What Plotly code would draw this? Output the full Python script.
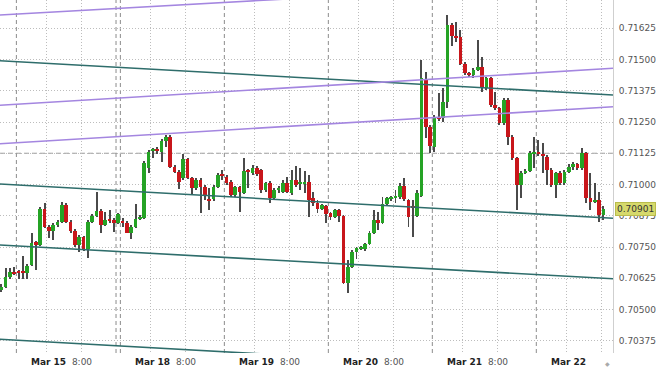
import plotly.graph_objects as go

# hourly bars: hours after Mar 15 08:00 (trading hours only, weekend removed)
hours = list(range(-11, 129))

open_ = [
    0.70578, 0.70591, 0.70629, 0.70651, 0.70652, 0.70654, 0.70647, 0.70678, 0.70769, 0.70758,
    0.70902, 0.70831, 0.70815, 0.70838, 0.70849, 0.70918, 0.70851, 0.70815, 0.70758, 0.70789,
    0.70741, 0.70851, 0.70874, 0.70895, 0.70838, 0.70861, 0.70858, 0.70847, 0.70855, 0.70847,
    0.70807, 0.70831, 0.70861, 0.70867, 0.71067, 0.71134, 0.71142, 0.71131, 0.71174, 0.71191,
    0.71071, 0.71051, 0.71025, 0.71101, 0.71025, 0.70985, 0.71018, 0.70991, 0.70941, 0.70941,
    0.70991, 0.71041, 0.71031, 0.71011, 0.70958, 0.70989, 0.70967, 0.71055, 0.71045, 0.71065,
    0.71058, 0.70978, 0.71007, 0.70945, 0.70978, 0.70971, 0.71005, 0.70965, 0.71018, 0.71002,
    0.71002, 0.71011, 0.70946, 0.70925, 0.70901, 0.70914, 0.70885, 0.70871, 0.70898, 0.70874,
    0.70607, 0.70671, 0.70731, 0.70743, 0.70741, 0.70762, 0.70805, 0.70858, 0.70847, 0.70922,
    0.70941, 0.70946, 0.70949, 0.70994, 0.70938, 0.70914, 0.70874, 0.70954, 0.71418, 0.71231,
    0.71151, 0.71269, 0.71265, 0.71331, 0.71638, 0.71594, 0.71589, 0.71482, 0.71445, 0.71438,
    0.71458, 0.71471, 0.71385, 0.71425, 0.71318, 0.71305, 0.71245, 0.71338, 0.71191, 0.71105,
    0.70998, 0.71047, 0.71055, 0.71122, 0.71130, 0.71122, 0.71111, 0.71058, 0.70998, 0.71047,
    0.71005, 0.71051, 0.71071, 0.71081, 0.71065, 0.71125, 0.70945, 0.70931, 0.70938, 0.70878,
]
high = [
    0.70602, 0.70665, 0.70666, 0.70671, 0.70658, 0.70714, 0.70682, 0.70807, 0.70774, 0.70910,
    0.70925, 0.70838, 0.70846, 0.70858, 0.70931, 0.70926, 0.70858, 0.70822, 0.70798, 0.70794,
    0.70858, 0.70882, 0.70971, 0.70902, 0.70890, 0.70898, 0.70866, 0.70886, 0.70866, 0.70854,
    0.70838, 0.70922, 0.70878, 0.71094, 0.71138, 0.71146, 0.71150, 0.71182, 0.71198, 0.71198,
    0.71078, 0.71058, 0.71121, 0.71106, 0.71030, 0.71026, 0.71026, 0.70998, 0.70986, 0.70998,
    0.71046, 0.71058, 0.71038, 0.71018, 0.70994, 0.70994, 0.71105, 0.71062, 0.71078, 0.71074,
    0.71062, 0.71010, 0.71014, 0.70986, 0.70994, 0.71018, 0.71031, 0.71058, 0.71074, 0.71065,
    0.71055, 0.71038, 0.70970, 0.70938, 0.70922, 0.70918, 0.70890, 0.70902, 0.70902, 0.70878,
    0.70698, 0.70738, 0.70750, 0.70754, 0.70766, 0.70814, 0.70898, 0.70891, 0.70951, 0.70950,
    0.70954, 0.70978, 0.71006, 0.71025, 0.70942, 0.70938, 0.70978, 0.71498, 0.71451, 0.71238,
    0.71278, 0.71365, 0.71386, 0.71678, 0.71646, 0.71651, 0.71618, 0.71490, 0.71450, 0.71465,
    0.71578, 0.71511, 0.71430, 0.71430, 0.71371, 0.71310, 0.71345, 0.71346, 0.71198, 0.71110,
    0.71054, 0.71062, 0.71134, 0.71191, 0.71178, 0.71165, 0.71118, 0.71066, 0.71050, 0.71054,
    0.71058, 0.71082, 0.71090, 0.71086, 0.71145, 0.71130, 0.71045, 0.71005, 0.70971, 0.70914,
]
low = [
    0.70570, 0.70586, 0.70622, 0.70638, 0.70622, 0.70622, 0.70622, 0.70674, 0.70658, 0.70754,
    0.70826, 0.70785, 0.70778, 0.70830, 0.70846, 0.70846, 0.70805, 0.70750, 0.70731, 0.70734,
    0.70705, 0.70846, 0.70870, 0.70805, 0.70834, 0.70845, 0.70811, 0.70842, 0.70831, 0.70805,
    0.70781, 0.70826, 0.70858, 0.70862, 0.71045, 0.71106, 0.71122, 0.71091, 0.71151, 0.71066,
    0.71046, 0.70982, 0.71018, 0.71022, 0.70958, 0.70978, 0.70886, 0.70938, 0.70898, 0.70934,
    0.70986, 0.71018, 0.70998, 0.70950, 0.70950, 0.70891, 0.70962, 0.70985, 0.71038, 0.71034,
    0.70967, 0.70970, 0.70925, 0.70938, 0.70966, 0.70966, 0.70966, 0.70958, 0.70990, 0.70978,
    0.70965, 0.70871, 0.70914, 0.70885, 0.70898, 0.70847, 0.70858, 0.70866, 0.70851, 0.70602,
    0.70565, 0.70666, 0.70701, 0.70738, 0.70734, 0.70758, 0.70802, 0.70818, 0.70842, 0.70914,
    0.70934, 0.70926, 0.70942, 0.70934, 0.70831, 0.70791, 0.70870, 0.70950, 0.71185, 0.71125,
    0.71131, 0.71254, 0.71250, 0.71305, 0.71554, 0.71571, 0.71478, 0.71438, 0.71431, 0.71426,
    0.71454, 0.71371, 0.71378, 0.71310, 0.71298, 0.71238, 0.71238, 0.71158, 0.71098, 0.70898,
    0.70945, 0.71042, 0.71050, 0.71066, 0.71114, 0.71046, 0.70998, 0.70990, 0.70945, 0.70998,
    0.70998, 0.71046, 0.71058, 0.71058, 0.71058, 0.70927, 0.70898, 0.70926, 0.70851, 0.70858,
]
close = [
    0.70591, 0.70629, 0.70649, 0.70645, 0.70649, 0.70649, 0.70674, 0.70765, 0.70758, 0.70902,
    0.70831, 0.70815, 0.70838, 0.70849, 0.70918, 0.70851, 0.70815, 0.70758, 0.70789, 0.70741,
    0.70851, 0.70874, 0.70895, 0.70838, 0.70858, 0.70855, 0.70847, 0.70881, 0.70847, 0.70807,
    0.70831, 0.70861, 0.70869, 0.71085, 0.71131, 0.71142, 0.71134, 0.71174, 0.71191, 0.71071,
    0.71051, 0.71011, 0.71101, 0.71027, 0.70985, 0.71018, 0.70991, 0.70958, 0.70934, 0.70991,
    0.71038, 0.71034, 0.71005, 0.70958, 0.70989, 0.70971, 0.71055, 0.71050, 0.71065, 0.71042,
    0.70978, 0.71005, 0.70945, 0.70978, 0.70985, 0.71005, 0.70971, 0.71018, 0.70998, 0.71011,
    0.71010, 0.70938, 0.70925, 0.70901, 0.70918, 0.70882, 0.70871, 0.70898, 0.70874, 0.70607,
    0.70671, 0.70731, 0.70745, 0.70749, 0.70762, 0.70807, 0.70858, 0.70847, 0.70922, 0.70945,
    0.70949, 0.70951, 0.70994, 0.70941, 0.70871, 0.70906, 0.70966, 0.71425, 0.71231, 0.71154,
    0.71271, 0.71261, 0.71331, 0.71638, 0.71594, 0.71589, 0.71482, 0.71445, 0.71438, 0.71458,
    0.71471, 0.71385, 0.71425, 0.71318, 0.71305, 0.71245, 0.71338, 0.71191, 0.71105, 0.70998,
    0.71047, 0.71055, 0.71125, 0.71130, 0.71122, 0.71114, 0.71058, 0.70998, 0.71045, 0.71005,
    0.71051, 0.71071, 0.71081, 0.71065, 0.71125, 0.70945, 0.70931, 0.70938, 0.70878, 0.70901,
]

# axis ticks / labels
grid_hours = [0, 8, 24, 32, 48, 56, 72, 80, 96, 104, 120, 128]
label_hours = [0, 24, 48, 72, 96, 120]
label_dates = ["Mar 15", "Mar 18", "Mar 19", "Mar 20", "Mar 21", "Mar 22"]
label_times = ["8:00", "8:00", "8:00", "8:00", "8:00", ""]
session_hours = [-7, 16, 17, 41, 65, 89, 113]
price_ticks = [0.70375, 0.70500, 0.70625, 0.70750, 0.70875, 0.71000,
               0.71125, 0.71250, 0.71375, 0.71500, 0.71625, 0.71750]
level_line = 0.71125

# drawn trend lines (price at left edge, price at right edge)
trend_x = [-10.8, 130.7]
teal_start = [0.71495, 0.71002, 0.70758, 0.70381]
teal_end = [0.71358, 0.70865, 0.70623, 0.70244]
purple_start = [0.71678, 0.71317, 0.71163]
purple_end = [0.71815, 0.71465, 0.71311]

X_RANGE = [-10.78, 130.7]
Y_RANGE = [0.70326, 0.71738]
GREEN = "#25a325"
RED = "#c8161b"
FONT = "DejaVu Sans"

xc = [h + 0.5 for h in hours]
body_base = [min(o, c) for o, c in zip(open_, close)]
body_len = [max(abs(c - o), 0.00003) for o, c in zip(open_, close)]
body_col = [GREEN if c >= o else RED for o, c in zip(open_, close)]
wick_len = [h - l for h, l in zip(high, low)]

fig = go.Figure()
fig.add_trace(go.Bar(x=xc, y=wick_len, base=low, width=0.23,
                     marker=dict(color="#4a4a4a", line=dict(width=0)),
                     hoverinfo="skip", showlegend=False))
fig.add_trace(go.Bar(x=xc, y=body_len, base=body_base, width=0.8,
                     marker=dict(color=body_col, line=dict(width=0)),
                     hoverinfo="skip", showlegend=False))

for s, e in zip(teal_start, teal_end):
    fig.add_trace(go.Scatter(x=trend_x, y=[s, e], mode="lines",
                             line=dict(color="#2e6d6b", width=1.6),
                             hoverinfo="skip", showlegend=False))
for s, e in zip(purple_start, purple_end):
    fig.add_trace(go.Scatter(x=trend_x, y=[s, e], mode="lines",
                             line=dict(color="#a486e0", width=1.6),
                             hoverinfo="skip", showlegend=False))

shapes = []
for h in session_hours:
    shapes.append(dict(type="line", xref="x", yref="paper", x0=h, x1=h, y0=0, y1=1,
                       line=dict(color="#8c8c8c", width=1, dash="4px,3px"), layer="below"))
shapes.append(dict(type="line", xref="paper", yref="y", x0=0, x1=1, y0=level_line, y1=level_line,
                   line=dict(color="#9a9a9a", width=1, dash="5px,3px"), layer="below"))

annotations = []
for h, d, t in zip(label_hours, label_dates, label_times):
    txt = "<b>%s</b>" % d + ("&nbsp;&nbsp;<span style='color:#555'>%s</span>" % t if t else "")
    annotations.append(dict(x=h, xref="x", y=0, yref="paper", yanchor="top", yshift=-2,
                            xanchor="left", xshift=-17.5, text=txt, showarrow=False,
                            font=dict(family=FONT, size=9, color="#222")))
# partially visible top tick label
annotations.append(dict(x=1, xref="paper", xanchor="left", xshift=4, y=price_ticks[-1], yref="y",
                        text="%.5f" % price_ticks[-1], showarrow=False,
                        font=dict(family=FONT, size=9, color="#555")))
# current price marker
annotations.append(dict(x=1, xref="paper", xanchor="left", xshift=2, y=close[-1], yref="y",
                        text="%.5f" % close[-1], showarrow=False, bgcolor="#d6d96c",
                        bordercolor="#b9bc4c", borderwidth=1, borderpad=1,
                        font=dict(family=FONT, size=9, color="#333")))
annotations.append(dict(x=1, xref="paper", xanchor="right", xshift=-1, y=0, yref="paper",
                        yanchor="top", yshift=-5, text="◆", showarrow=False,
                        font=dict(family=FONT, size=6, color="#aaaaaa")))

fig.update_layout(
    width=660, height=370,
    margin=dict(l=0, r=47, t=0, b=17),
    paper_bgcolor="white", plot_bgcolor="white",
    barmode="overlay", bargap=0,
    shapes=shapes, annotations=annotations,
    xaxis=dict(range=X_RANGE, tickvals=grid_hours, showticklabels=False,
               showgrid=True, gridcolor="#bdbdbd", griddash="1px,2px", gridwidth=1,
               zeroline=False, showline=False, ticks=""),
    yaxis=dict(range=Y_RANGE, side="right", tickvals=price_ticks,
               ticktext=["%.5f" % v for v in price_ticks],
               tickfont=dict(family=FONT, size=9, color="#555"),
               showgrid=True, gridcolor="#bdbdbd", griddash="1px,2px", gridwidth=1,
               zeroline=False, showline=True, linecolor="#cfcfcf", linewidth=1,
               ticks="", ticklabelstandoff=3),
    font=dict(family=FONT),
)

fig.write_html("out.html")
